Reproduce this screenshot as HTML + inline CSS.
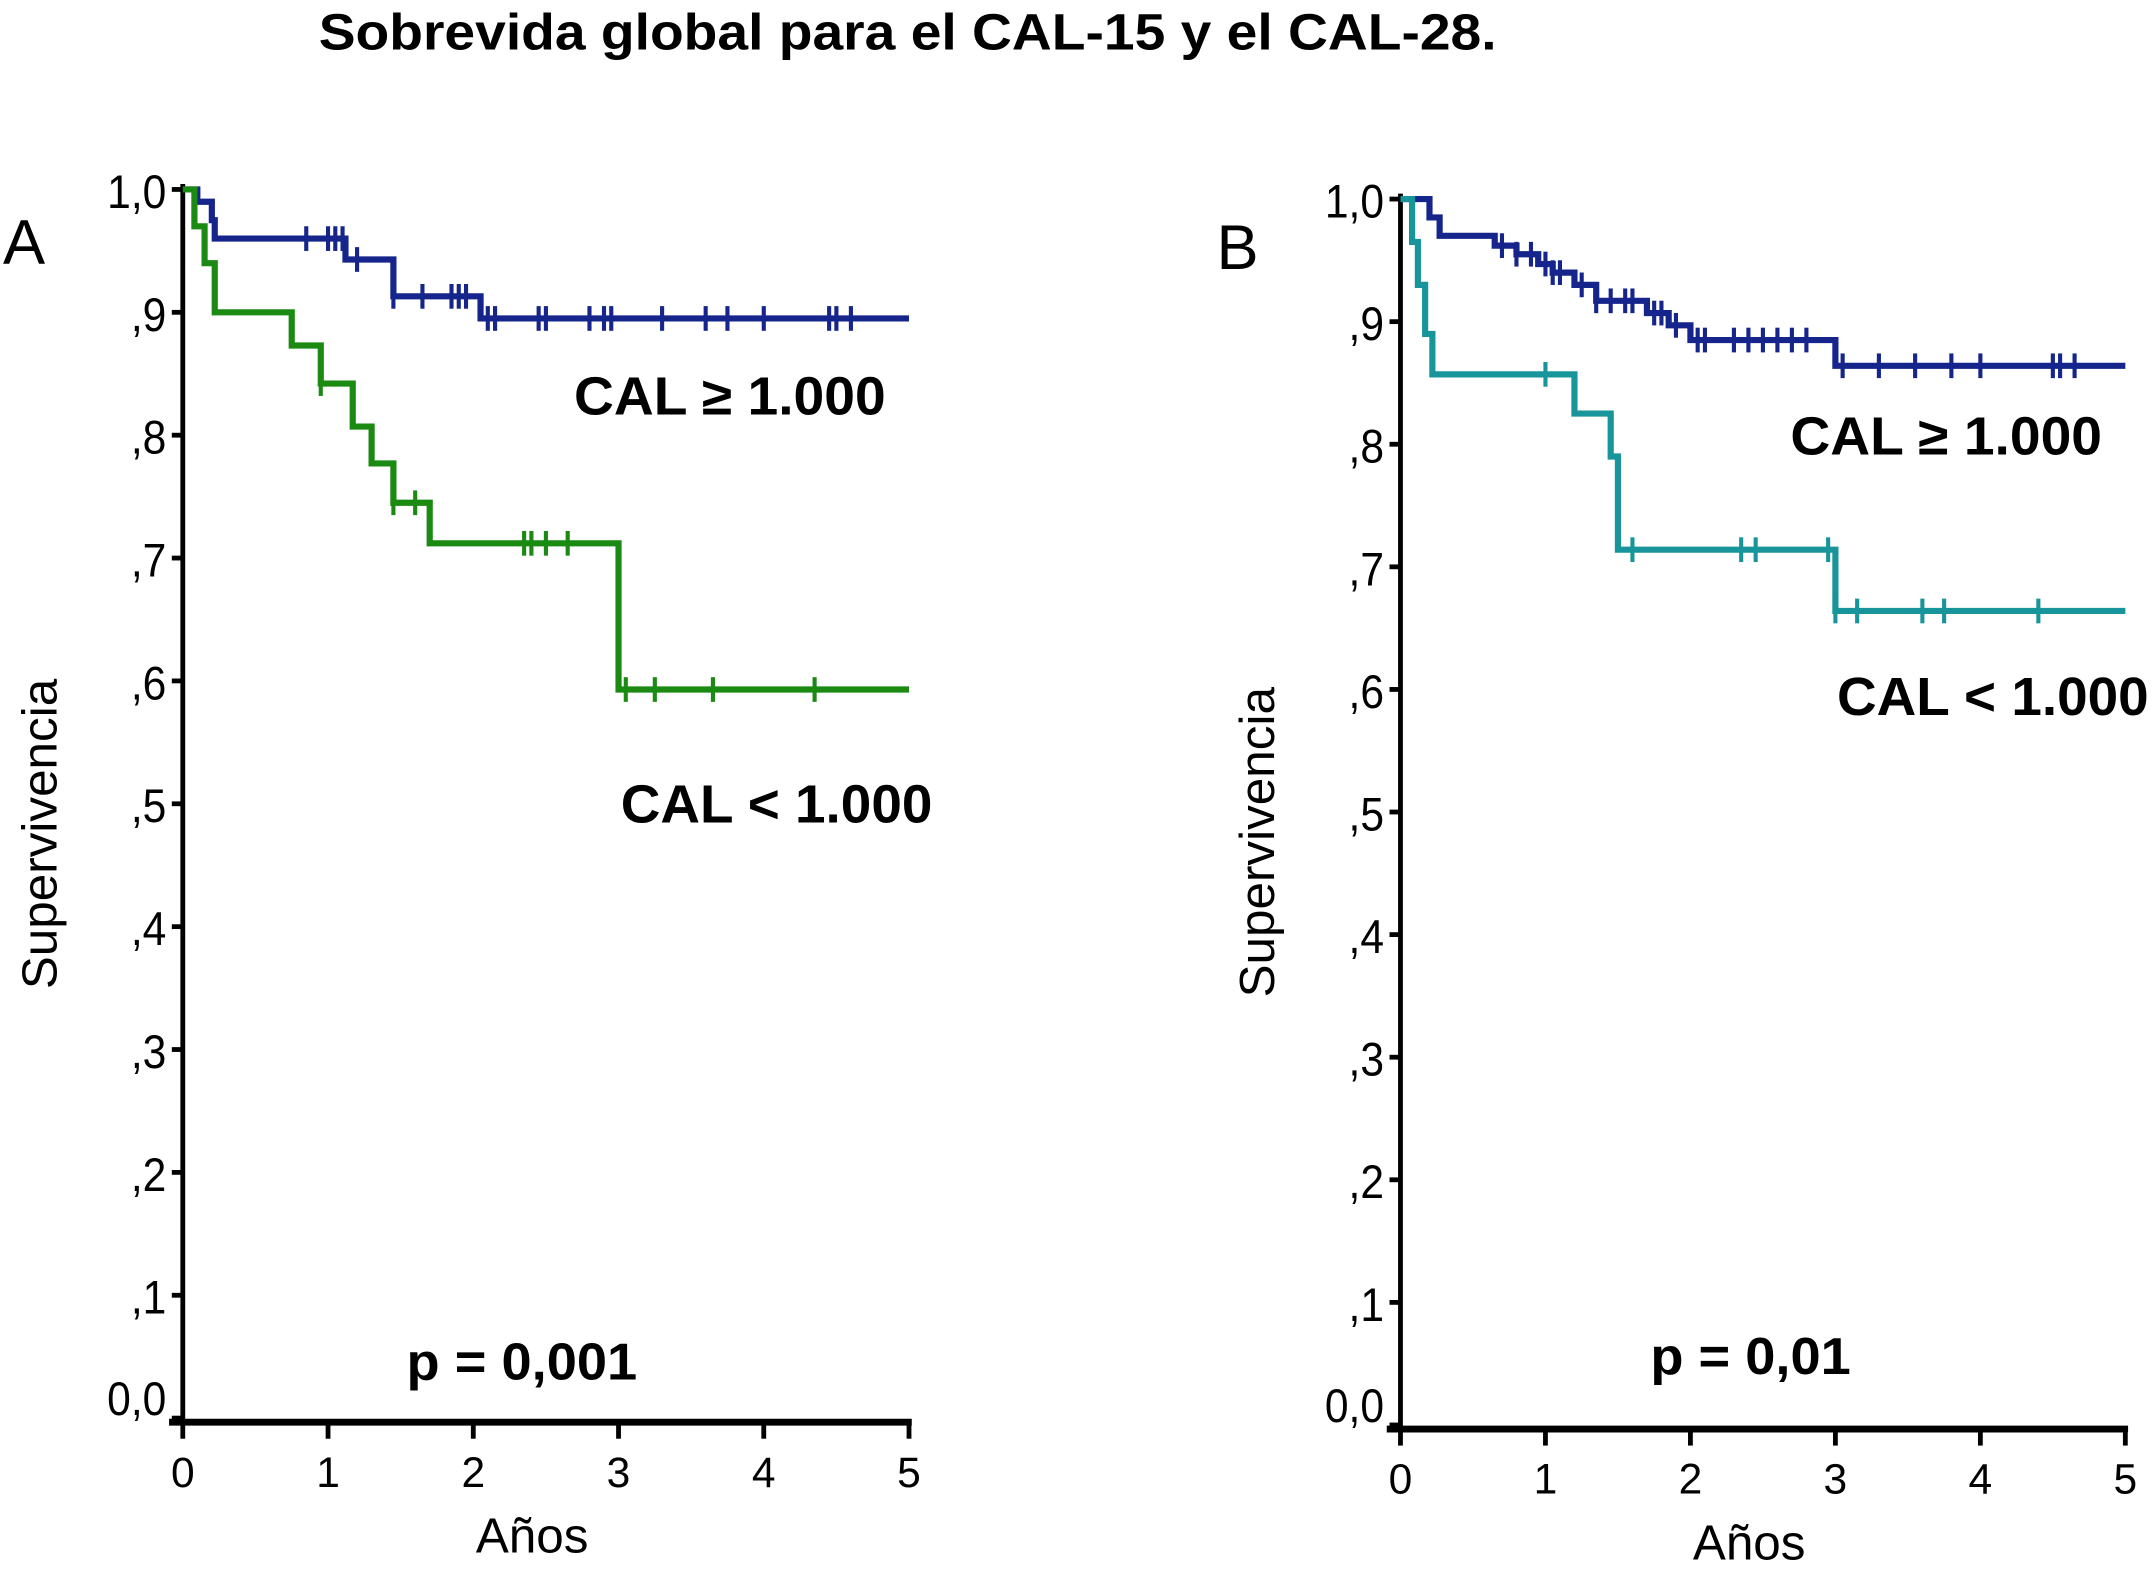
<!DOCTYPE html>
<html><head><meta charset="utf-8"><style>
html,body{margin:0;padding:0;background:#fff}
svg{display:block;font-family:"Liberation Sans",sans-serif}
</style></head><body>
<svg id="chart" width="2153" height="1576" viewBox="0 0 1568 1148" xmlns="http://www.w3.org/2000/svg">
<text x="232" y="36" font-size="37" font-weight="bold" textLength="858" lengthAdjust="spacingAndGlyphs">Sobrevida global para el CAL-15 y el CAL-28.</text>
<g id="pA"></g>
<g id="pB"></g>
</svg>
<script>
// Panel A data
const aHighT = [0, 0.1, 0.2, 0.22, 1.12, 1.45, 2.05, 5];
const aHighS = [1.0, 0.99, 0.975, 0.96, 0.943, 0.913, 0.895, 0.895];
const aHighCens = [0.85,1.0,1.05,1.1,1.2,1.45,1.65,1.85,1.9,1.95,2.1,2.15,2.45,2.5,2.8,2.9,2.95,3.3,3.6,3.75,4.0,4.45,4.5,4.6];
const aLowT = [0, 0.08, 0.15, 0.22, 0.75, 0.95, 1.17, 1.3, 1.45, 1.7, 3.0, 5];
const aLowS = [1.0, 0.97, 0.94, 0.90, 0.873, 0.842, 0.807, 0.777, 0.745, 0.712, 0.593, 0.593];
const aLowCens = [0.95,1.45,1.6,2.35,2.4,2.5,2.65,3.05,3.25,3.65,4.35];
// Panel B data
const bHighT = [0, 0.2, 0.27, 0.65, 0.8, 0.95, 1.05, 1.2, 1.35, 1.7, 1.85, 2.0, 3.0, 5];
const bHighS = [1.0, 0.985, 0.97, 0.962, 0.955, 0.947, 0.94, 0.93, 0.917, 0.907, 0.897, 0.885, 0.864, 0.864];
const bHighCens = [0.7,0.8,0.9,1.0,1.05,1.1,1.25,1.35,1.45,1.55,1.6,1.75,1.8,1.9,2.05,2.1,2.3,2.4,2.5,2.6,2.7,2.8,3.05,3.3,3.55,3.8,4.0,4.5,4.55,4.65];
const bLowT = [0, 0.08, 0.12, 0.17, 0.22, 1.2, 1.45, 1.5, 3.0, 5];
const bLowS = [1.0, 0.965, 0.93, 0.89, 0.857, 0.825, 0.79, 0.714, 0.664, 0.664];
const bLowCens = [1.0,1.6,2.35,2.45,2.95,3.0,3.15,3.6,3.75,4.4];
const yTicks = ["0,0",",1",",2",",3",",4",",5",",6",",7",",8",",9","1,0"];
const xTicks = [0,1,2,3,4,5];
const NS="http://www.w3.org/2000/svg";
function mk(g,tag,at){const e=document.createElementNS(NS,tag);for(const k in at)e.setAttribute(k,at[k]);g.appendChild(e);return e;}
function panel(g,o){
  const X=t=>o.x0+t*(o.x5-o.x0)/5, Y=s=>o.y0-s*(o.y0-o.y1);
  let e=mk(g,'line',{x1:o.x0,y1:o.y1-4,x2:o.x0,y2:o.y0+3,stroke:'#000','stroke-width':3.5});
  
  e=mk(g,'line',{x1:o.x0-10,y1:o.y0+3,x2:o.x5+2,y2:o.y0+3,stroke:'#000','stroke-width':5});
  
  yTicks.forEach((l,i)=>{const y=Y(i/10);
    mk(g,'line',{x1:o.x0-8,y1:y,x2:o.x0,y2:y,stroke:'#000','stroke-width':3.5});
    const t=mk(g,'text',{x:o.x0-12,y:y+(i==0?-2:12),'font-size':31,'text-anchor':'end',transform:`translate(0 ${y}) scale(1 1.12) translate(0 ${-y})`});t.textContent=l;
    });
  xTicks.forEach(v=>{const x=X(v);
    mk(g,'line',{x1:x,y1:o.y0+3,x2:x,y2:o.y0+15,stroke:'#000','stroke-width':3.5});
    const t=mk(g,'text',{x:x,y:o.y0+50,'font-size':31,'text-anchor':'middle'});t.textContent=v;
    });
  function series(T,S,C,col,name){
    let d='M'+X(T[0])+','+Y(S[0]);
    for(let i=1;i<T.length;i++){d+=' H'+X(T[i])+' V'+Y(S[i]);}
    const p=mk(g,'path',{d:d,fill:'none',stroke:col,'stroke-width':4.5});
    
    C.forEach(c=>{let s=S[0];for(let i=0;i<T.length;i++)if(T[i]<=c)s=S[i];
      const m=mk(g,'line',{x1:X(c),y1:Y(s)-9,x2:X(c),y2:Y(s)+9,stroke:col,'stroke-width':3});
      });
  }
  series(o.hT,o.hS,o.hC,'#15258c','curve-cal-high');
  series(o.lT,o.lS,o.lC,o.lowCol,'curve-cal-low');
  let t=mk(g,'text',{x:o.hl[0],y:o.hl[1],'font-size':39,'font-weight':'bold',textLength:227,lengthAdjust:'spacingAndGlyphs'});t.textContent='CAL ≥ 1.000';
  
  t=mk(g,'text',{x:o.ll[0],y:o.ll[1],'font-size':39,'font-weight':'bold',textLength:227,lengthAdjust:'spacingAndGlyphs'});t.textContent='CAL < 1.000';
  
  t=mk(g,'text',{x:o.p[0],y:o.p[1],'font-size':38,'font-weight':'bold',textLength:o.pw,lengthAdjust:'spacingAndGlyphs'});t.textContent=o.ptxt;
  
  t=mk(g,'text',{x:o.L[0],y:o.L[1],'font-size':46});t.textContent=o.Ltxt;
  
  t=mk(g,'text',{x:(o.x0+o.x5)/2-10,y:o.y0+98,'font-size':36,'text-anchor':'middle'});t.textContent='Años';
  
  const cy=(o.y0+o.y1)/2+22;
  t=mk(g,'text',{x:o.x0-92,y:cy,'font-size':36,'text-anchor':'middle',transform:`rotate(-90 ${o.x0-92} ${cy})`});t.textContent='Supervivencia';
  
}
panel(document.getElementById('pA'),{x0:133,x5:662,y0:1033,y1:138,hT:aHighT,hS:aHighS,hC:aHighCens,lT:aLowT,lS:aLowS,lC:aLowCens,lowCol:'#1b8a12',hl:[418,302],ll:[452,599],p:[296,1005],pw:168,ptxt:'p = 0,001',L:[2,192],Ltxt:'A'});
panel(document.getElementById('pB'),{x0:1020,x5:1548,y0:1038,y1:145,hT:bHighT,hS:bHighS,hC:bHighCens,lT:bLowT,lS:bLowS,lC:bLowCens,lowCol:'#17959a',hl:[1304,331],ll:[1338,521],p:[1202,1001],pw:146,ptxt:'p = 0,01',L:[886,196],Ltxt:'B'});
</script>
</body></html>
